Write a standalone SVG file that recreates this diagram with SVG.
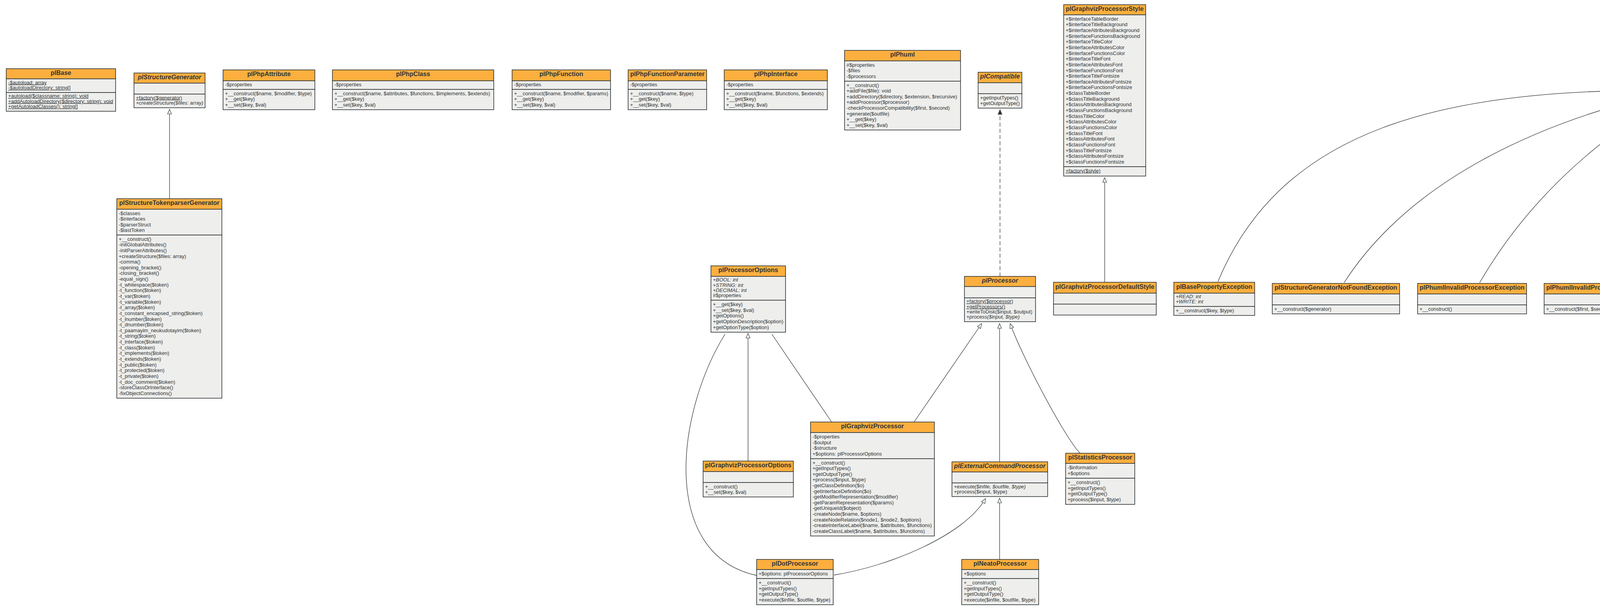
<svg xmlns="http://www.w3.org/2000/svg" width="5645" height="1560" viewBox="0 0 5645 1560">
<style>
.h{fill:#FCAF3E;stroke:#2E3436;stroke-width:1.6}
.b{fill:#EEEEEC;stroke:#2E3436;stroke-width:1.6}
text{font-family:"Liberation Sans",Arial,sans-serif;fill:#2E3436}
.t{font-size:16px;font-weight:bold;text-anchor:middle}
.ti{font-size:16px;font-weight:bold;font-style:italic;text-anchor:middle}
.r{font-size:13px}
.i{font-style:italic}
.u{text-decoration:underline}
.e{fill:none;stroke:#2E3436;stroke-width:1.3}
.d{stroke-dasharray:10,6}
.ah{marker-end:url(#tri)}
.af{marker-end:url(#trif)}
</style>
<defs>
<marker id="tri" viewBox="0 0 14 12" refX="13" refY="6" markerWidth="14" markerHeight="12" markerUnits="userSpaceOnUse" orient="auto"><path d="M1,1 L13,6 L1,11 Z" fill="#FFFFFF" stroke="#2E3436" stroke-width="1.2"/></marker>
<marker id="trif" viewBox="0 0 14 12" refX="13" refY="6" markerWidth="14" markerHeight="12" markerUnits="userSpaceOnUse" orient="auto"><path d="M1,1 L13,6 L1,11 Z" fill="#2E3436" stroke="#2E3436" stroke-width="1.2"/></marker>
</defs>
<rect x="0" y="0" width="5645" height="1560" fill="#FFFFFF"/>

<g id="plBase">
<rect class="h" x="16" y="176" width="280" height="26"/>
<rect class="b" x="16" y="202" width="280" height="35"/>
<rect class="b" x="16" y="237" width="280" height="48"/>
<text class="t" x="156" y="192">plBase</text>
<text class="r u" x="21" y="215.5"><tspan x="21">-$autoload: array</tspan><tspan x="21" dy="13.5">-$autoloadDirectory: string[]</tspan></text>
<text class="r u" x="21" y="250.3"><tspan x="21">+autoload($classname: string): void</tspan><tspan x="21" dy="13.3">+addAutoloadDirectory($directory: string): void</tspan><tspan x="21" dy="13.3">+getAutoloadClasses(): string[]</tspan></text>
</g>

<g id="plStructureGenerator">
<rect class="h" x="343" y="187" width="182" height="26"/>
<rect class="b" x="343" y="213" width="182" height="28"/>
<rect class="b" x="343" y="241" width="182" height="35"/>
<text class="ti" x="434" y="203">plStructureGenerator</text>
<text class="r u" x="348" y="254.5">+factory($generator)</text>
<text class="r i" x="348" y="268">+createStructure($files: array)</text>
</g>

<g id="plPhpAttribute">
<rect class="h" x="571" y="179" width="235" height="28"/>
<rect class="b" x="571" y="207" width="235" height="22"/>
<rect class="b" x="571" y="229" width="235" height="52"/>
<text class="t" x="688.5" y="195">plPhpAttribute</text>
<text class="r" x="576" y="221">-$properties</text>
<text class="r" x="576" y="243.7"><tspan x="576">+__construct($name, $modifier, $type)</tspan><tspan x="576" dy="14.67">+__get($key)</tspan><tspan x="576" dy="14.67">+__set($key, $val)</tspan></text>
</g>

<g id="plPhpClass">
<rect class="h" x="851" y="179" width="413" height="28"/>
<rect class="b" x="851" y="207" width="413" height="22"/>
<rect class="b" x="851" y="229" width="413" height="52"/>
<text class="t" x="1057.5" y="195">plPhpClass</text>
<text class="r" x="856" y="221">-$properties</text>
<text class="r" x="856" y="243.7"><tspan x="856">+__construct($name, $attributes, $functions, $implements, $extends)</tspan><tspan x="856" dy="14.67">+__get($key)</tspan><tspan x="856" dy="14.67">+__set($key, $val)</tspan></text>
</g>

<g id="plPhpFunction">
<rect class="h" x="1311" y="179" width="252" height="28"/>
<rect class="b" x="1311" y="207" width="252" height="22"/>
<rect class="b" x="1311" y="229" width="252" height="52"/>
<text class="t" x="1437" y="195">plPhpFunction</text>
<text class="r" x="1316" y="221">-$properties</text>
<text class="r" x="1316" y="243.7"><tspan x="1316">+__construct($name, $modifier, $params)</tspan><tspan x="1316" dy="14.67">+__get($key)</tspan><tspan x="1316" dy="14.67">+__set($key, $val)</tspan></text>
</g>

<g id="plPhpFunctionParameter">
<rect class="h" x="1608" y="179" width="201" height="28"/>
<rect class="b" x="1608" y="207" width="201" height="22"/>
<rect class="b" x="1608" y="229" width="201" height="52"/>
<text class="t" x="1708.5" y="195">plPhpFunctionParameter</text>
<text class="r" x="1613" y="221">-$properties</text>
<text class="r" x="1613" y="243.7"><tspan x="1613">+__construct($name, $type)</tspan><tspan x="1613" dy="14.67">+__get($key)</tspan><tspan x="1613" dy="14.67">+__set($key, $val)</tspan></text>
</g>

<g id="plPhpInterface">
<rect class="h" x="1854" y="179" width="264" height="28"/>
<rect class="b" x="1854" y="207" width="264" height="22"/>
<rect class="b" x="1854" y="229" width="264" height="52"/>
<text class="t" x="1986" y="195">plPhpInterface</text>
<text class="r" x="1859" y="221">-$properties</text>
<text class="r" x="1859" y="243.7"><tspan x="1859">+__construct($name, $functions, $extends)</tspan><tspan x="1859" dy="14.67">+__get($key)</tspan><tspan x="1859" dy="14.67">+__set($key, $val)</tspan></text>
</g>

<g id="plPhuml">
<rect class="h" x="2162" y="129" width="297" height="27"/>
<rect class="b" x="2162" y="156" width="297" height="52"/>
<rect class="b" x="2162" y="208" width="297" height="125"/>
<text class="t" x="2310.5" y="145">plPhuml</text>
<text class="r" x="2167" y="170.7"><tspan x="2167">#$properties</tspan><tspan x="2167" dy="14.67">-$files</tspan><tspan x="2167" dy="14.67">-$processors</tspan></text>
<text class="r" x="2167" y="222.6"><tspan x="2167">+__construct()</tspan><tspan x="2167" dy="14.63">+addFile($file): void</tspan><tspan x="2167" dy="14.63">+addDirectory($directory, $extension, $recursive)</tspan><tspan x="2167" dy="14.63">+addProcessor($processor)</tspan><tspan x="2167" dy="14.63">-checkProcessorCompatibility($first, $second)</tspan><tspan x="2167" dy="14.63">+generate($outfile)</tspan><tspan x="2167" dy="14.63">+__get($key)</tspan><tspan x="2167" dy="14.63">+__set($key, $val)</tspan></text>
</g>

<g id="plCompatible">
<rect class="h" x="2504" y="185" width="112" height="27"/>
<rect class="b" x="2504" y="212" width="112" height="28"/>
<rect class="b" x="2504" y="240" width="112" height="37"/>
<text class="ti" x="2560" y="201">plCompatible</text>
<text class="r" x="2509" y="254.5"><tspan x="2509">+getInputTypes()</tspan><tspan x="2509" dy="14.5">+getOutputType()</tspan></text>
</g>

<g id="plGraphvizProcessorStyle">
<rect class="h" x="2723" y="12" width="210" height="26"/>
<rect class="b" x="2723" y="38" width="210" height="389"/>
<rect class="b" x="2723" y="427" width="210" height="24"/>
<text class="t" x="2828" y="28">plGraphvizProcessorStyle</text>
<text class="r" x="2728" y="52.65"><tspan x="2728">+$interfaceTableBorder</tspan><tspan x="2728" dy="14.65">+$interfaceTitleBackground</tspan><tspan x="2728" dy="14.65">+$interfaceAttributesBackground</tspan><tspan x="2728" dy="14.65">+$interfaceFunctionsBackground</tspan><tspan x="2728" dy="14.65">+$interfaceTitleColor</tspan><tspan x="2728" dy="14.65">+$interfaceAttributesColor</tspan><tspan x="2728" dy="14.65">+$interfaceFunctionsColor</tspan><tspan x="2728" dy="14.65">+$interfaceTitleFont</tspan><tspan x="2728" dy="14.65">+$interfaceAttributesFont</tspan><tspan x="2728" dy="14.65">+$interfaceFunctionsFont</tspan><tspan x="2728" dy="14.65">+$interfaceTitleFontsize</tspan><tspan x="2728" dy="14.65">+$interfaceAttributesFontsize</tspan><tspan x="2728" dy="14.65">+$interfaceFunctionsFontsize</tspan><tspan x="2728" dy="14.65">+$classTableBorder</tspan><tspan x="2728" dy="14.65">+$classTitleBackground</tspan><tspan x="2728" dy="14.65">+$classAttributesBackground</tspan><tspan x="2728" dy="14.65">+$classFunctionsBackground</tspan><tspan x="2728" dy="14.65">+$classTitleColor</tspan><tspan x="2728" dy="14.65">+$classAttributesColor</tspan><tspan x="2728" dy="14.65">+$classFunctionsColor</tspan><tspan x="2728" dy="14.65">+$classTitleFont</tspan><tspan x="2728" dy="14.65">+$classAttributesFont</tspan><tspan x="2728" dy="14.65">+$classFunctionsFont</tspan><tspan x="2728" dy="14.65">+$classTitleFontsize</tspan><tspan x="2728" dy="14.65">+$classAttributesFontsize</tspan><tspan x="2728" dy="14.65">+$classFunctionsFontsize</tspan></text>
<text class="r u" x="2728" y="441.5">+factory($style)</text>
</g>

<g id="plStructureTokenparserGenerator">
<rect class="h" x="299" y="509" width="269" height="27"/>
<rect class="b" x="299" y="536" width="269" height="66"/>
<rect class="b" x="299" y="602" width="269" height="418"/>
<text class="t" x="433.5" y="525">plStructureTokenparserGenerator</text>
<text class="r" x="304" y="550.5"><tspan x="304">-$classes</tspan><tspan x="304" dy="14.5">-$interfaces</tspan><tspan x="304" dy="14.5">-$parserStruct</tspan><tspan x="304" dy="14.5">-$lastToken</tspan></text>
<text class="r" x="304" y="616.6"><tspan x="304">+__construct()</tspan><tspan x="304" dy="14.64">-initGlobalAttributes()</tspan><tspan x="304" dy="14.64">-initParserAttributes()</tspan><tspan x="304" dy="14.64">+createStructure($files: array)</tspan><tspan x="304" dy="14.64">-comma()</tspan><tspan x="304" dy="14.64">-opening_bracket()</tspan><tspan x="304" dy="14.64">-closing_bracket()</tspan><tspan x="304" dy="14.64">-equal_sign()</tspan><tspan x="304" dy="14.64">-t_whitespace($token)</tspan><tspan x="304" dy="14.64">-t_function($token)</tspan><tspan x="304" dy="14.64">-t_var($token)</tspan><tspan x="304" dy="14.64">-t_variable($token)</tspan><tspan x="304" dy="14.64">-t_array($token)</tspan><tspan x="304" dy="14.64">-t_constant_encapsed_string($token)</tspan><tspan x="304" dy="14.64">-t_lnumber($token)</tspan><tspan x="304" dy="14.64">-t_dnumber($token)</tspan><tspan x="304" dy="14.64">-t_paamayim_neukudotayim($token)</tspan><tspan x="304" dy="14.64">-t_string($token)</tspan><tspan x="304" dy="14.64">-t_interface($token)</tspan><tspan x="304" dy="14.64">-t_class($token)</tspan><tspan x="304" dy="14.64">-t_implements($token)</tspan><tspan x="304" dy="14.64">-t_extends($token)</tspan><tspan x="304" dy="14.64">-t_public($token)</tspan><tspan x="304" dy="14.64">-t_protected($token)</tspan><tspan x="304" dy="14.64">-t_private($token)</tspan><tspan x="304" dy="14.64">-t_doc_comment($token)</tspan><tspan x="304" dy="14.64">-storeClassOrInterface()</tspan><tspan x="304" dy="14.64">-fixObjectConnections()</tspan></text>
</g>

<g id="plProcessorOptions">
<rect class="h" x="1820" y="681" width="191" height="27"/>
<rect class="b" x="1820" y="708" width="191" height="61"/>
<rect class="b" x="1820" y="769" width="191" height="82"/>
<text class="t" x="1915.5" y="697">plProcessorOptions</text>
<text class="r" x="1825" y="721.25"><tspan x="1825" class="i">+BOOL: int</tspan><tspan x="1825" dy="13.25" class="i">+STRING: int</tspan><tspan x="1825" dy="13.25" class="i">+DECIMAL: int</tspan><tspan x="1825" dy="13.25">#$properties</tspan></text>
<text class="r" x="1825" y="783.8"><tspan x="1825">+__get($key)</tspan><tspan x="1825" dy="14.8">+__set($key, $val)</tspan><tspan x="1825" dy="14.8">+getOptions()</tspan><tspan x="1825" dy="14.8">+getOptionDescription($option)</tspan><tspan x="1825" dy="14.8">+getOptionType($option)</tspan></text>
</g>

<g id="plProcessor">
<rect class="h" x="2469" y="708" width="182" height="26"/>
<rect class="b" x="2469" y="734" width="182" height="29"/>
<rect class="b" x="2469" y="763" width="182" height="61"/>
<text class="ti" x="2560" y="724">plProcessor</text>
<text class="r u" x="2474" y="776.25">+factory($processor)</text>
<text class="r u" x="2474" y="789.5">+getProcessors()</text>
<text class="r" x="2474" y="802.75">+writeToDisk($input, $output)</text>
<text class="r i" x="2474" y="816">+process($input, $type)</text>
</g>

<g id="plGraphvizProcessorOptions">
<rect class="h" x="1800" y="1181" width="231" height="27"/>
<rect class="b" x="1800" y="1208" width="231" height="28"/>
<rect class="b" x="1800" y="1236" width="231" height="37"/>
<text class="t" x="1915.5" y="1197">plGraphvizProcessorOptions</text>
<text class="r" x="1805" y="1250.5"><tspan x="1805">+__construct()</tspan><tspan x="1805" dy="14.5">+__set($key, $val)</tspan></text>
</g>

<g id="plGraphvizProcessor">
<rect class="h" x="2075" y="1081" width="317" height="27"/>
<rect class="b" x="2075" y="1108" width="317" height="67"/>
<rect class="b" x="2075" y="1175" width="317" height="198"/>
<text class="t" x="2233.5" y="1097">plGraphvizProcessor</text>
<text class="r" x="2080" y="1122.75"><tspan x="2080">-$properties</tspan><tspan x="2080" dy="14.75">-$output</tspan><tspan x="2080" dy="14.75">-$structure</tspan><tspan x="2080" dy="14.75">+$options: plProcessorOptions</tspan></text>
<text class="r" x="2080" y="1189.6"><tspan x="2080">+__construct()</tspan><tspan x="2080" dy="14.6">+getInputTypes()</tspan><tspan x="2080" dy="14.6">+getOutputType()</tspan><tspan x="2080" dy="14.6">+process($input, $type)</tspan><tspan x="2080" dy="14.6">-getClassDefinition($o)</tspan><tspan x="2080" dy="14.6">-getInterfaceDefinition($o)</tspan><tspan x="2080" dy="14.6">-getModifierRepresentation($modifier)</tspan><tspan x="2080" dy="14.6">-getParamRepresentation($params)</tspan><tspan x="2080" dy="14.6">-getUniqueId($object)</tspan><tspan x="2080" dy="14.6">-createNode($name, $options)</tspan><tspan x="2080" dy="14.6">-createNodeRelation($node1, $node2, $options)</tspan><tspan x="2080" dy="14.6">-createInterfaceLabel($name, $attributes, $functions)</tspan><tspan x="2080" dy="14.6">-createClassLabel($name, $attributes, $functions)</tspan></text>
</g>

<g id="plDotProcessor">
<rect class="h" x="1937" y="1433" width="196" height="26"/>
<rect class="b" x="1937" y="1459" width="196" height="23"/>
<rect class="b" x="1937" y="1482" width="196" height="67"/>
<text class="t" x="2035" y="1449">plDotProcessor</text>
<text class="r" x="1942" y="1474">+$options: plProcessorOptions</text>
<text class="r" x="1942" y="1496.75"><tspan x="1942">+__construct()</tspan><tspan x="1942" dy="14.75">+getInputTypes()</tspan><tspan x="1942" dy="14.75">+getOutputType()</tspan><tspan x="1942" dy="14.75">+execute($infile, $outfile, $type)</tspan></text>
</g>

<g id="plNeatoProcessor">
<rect class="h" x="2462" y="1433" width="197" height="26"/>
<rect class="b" x="2462" y="1459" width="197" height="23"/>
<rect class="b" x="2462" y="1482" width="197" height="67"/>
<text class="t" x="2560.5" y="1449">plNeatoProcessor</text>
<text class="r" x="2467" y="1474">+$options</text>
<text class="r" x="2467" y="1496.75"><tspan x="2467">+__construct()</tspan><tspan x="2467" dy="14.75">+getInputTypes()</tspan><tspan x="2467" dy="14.75">+getOutputType()</tspan><tspan x="2467" dy="14.75">+execute($infile, $outfile, $type)</tspan></text>
</g>

<g id="plExternalCommandProcessor">
<rect class="h" x="2437" y="1183" width="245" height="26"/>
<rect class="b" x="2437" y="1209" width="245" height="28"/>
<rect class="b" x="2437" y="1237" width="245" height="35"/>
<text class="ti" x="2559.5" y="1199">plExternalCommandProcessor</text>
<text class="r i" x="2442" y="1250.5">+execute($infile, $outfile, $type)</text>
<text class="r" x="2442" y="1264">+process($input, $type)</text>
</g>

<g id="plStatisticsProcessor">
<rect class="h" x="2728" y="1161" width="177" height="26"/>
<rect class="b" x="2728" y="1187" width="177" height="38"/>
<rect class="b" x="2728" y="1225" width="177" height="67"/>
<text class="t" x="2816.5" y="1177">plStatisticsProcessor</text>
<text class="r" x="2733" y="1202"><tspan x="2733">-$information</tspan><tspan x="2733" dy="15">+$options</tspan></text>
<text class="r" x="2733" y="1239.75"><tspan x="2733">+__construct()</tspan><tspan x="2733" dy="14.75">+getInputTypes()</tspan><tspan x="2733" dy="14.75">+getOutputType()</tspan><tspan x="2733" dy="14.75">+process($input, $type)</tspan></text>
</g>

<g id="plGraphvizProcessorDefaultStyle">
<rect class="h" x="2697" y="723" width="263" height="28"/>
<rect class="b" x="2697" y="751" width="263" height="28"/>
<rect class="b" x="2697" y="779" width="263" height="28"/>
<text class="t" x="2828.5" y="740">plGraphvizProcessorDefaultStyle</text>
</g>

<g id="Exception">
<rect class="h" x="4255" y="189" width="88" height="26.5"/>
<rect class="b" x="4255" y="215.5" width="88" height="28"/>
<rect class="b" x="4255" y="243.5" width="88" height="28.5"/>
<text class="t" x="4299" y="205">Exception</text>
</g>

<g id="plBasePropertyException">
<rect class="h" x="3005" y="723" width="207" height="28"/>
<rect class="b" x="3005" y="751" width="207" height="34"/>
<rect class="b" x="3005" y="785" width="207" height="23"/>
<text class="t" x="3108.5" y="740">plBasePropertyException</text>
<text class="r i" x="3010" y="764"><tspan x="3010">+READ: int</tspan><tspan x="3010" dy="13">+WRITE: int</tspan></text>
<text class="r" x="3010" y="800">+__construct($key, $type)</text>
</g>

<g id="plStructureGeneratorNotFoundException">
<rect class="h" x="3257" y="726" width="326" height="27"/>
<rect class="b" x="3257" y="753" width="326" height="28"/>
<rect class="b" x="3257" y="781" width="326" height="23"/>
<text class="t" x="3420" y="742">plStructureGeneratorNotFoundException</text>
<text class="r" x="3262" y="796">+__construct($generator)</text>
</g>

<g id="plPhumlInvalidProcessorException">
<rect class="h" x="3629" y="726" width="279" height="27"/>
<rect class="b" x="3629" y="753" width="279" height="28"/>
<rect class="b" x="3629" y="781" width="279" height="23"/>
<text class="t" x="3768.5" y="742">plPhumlInvalidProcessorException</text>
<text class="r" x="3634" y="796">+__construct()</text>
</g>

<g id="plPhumlInvalidProcessorChainException">
<rect class="h" x="3953" y="726" width="324" height="27"/>
<rect class="b" x="3953" y="753" width="324" height="28"/>
<rect class="b" x="3953" y="781" width="324" height="23"/>
<text class="t" x="4115" y="742">plPhumlInvalidProcessorChainException</text>
<text class="r" x="3958" y="796">+__construct($first, $second)</text>
</g>

<g id="plProcessorExternalExecutionException">
<rect class="h" x="4322" y="726" width="320" height="27"/>
<rect class="b" x="4322" y="753" width="320" height="28"/>
<rect class="b" x="4322" y="781" width="320" height="23"/>
<text class="t" x="4482" y="742">plProcessorExternalExecutionException</text>
<text class="r" x="4327" y="796">+__construct($output)</text>
</g>

<g id="plGraphvizProcessorStyleNotFoundException">
<rect class="h" x="4688" y="726" width="362" height="27"/>
<rect class="b" x="4688" y="753" width="362" height="28"/>
<rect class="b" x="4688" y="781" width="362" height="23"/>
<text class="t" x="4869" y="742">plGraphvizProcessorStyleNotFoundException</text>
<text class="r" x="4693" y="796">+__construct($style)</text>
</g>

<g id="plProcessorNotFoundException">
<rect class="h" x="5097" y="726" width="257" height="27"/>
<rect class="b" x="5097" y="753" width="257" height="28"/>
<rect class="b" x="5097" y="781" width="257" height="23"/>
<text class="t" x="5225.5" y="742">plProcessorNotFoundException</text>
<text class="r" x="5102" y="796">+__construct($processor)</text>
</g>

<g id="plProcessorOptionException">
<rect class="h" x="5400" y="716" width="229" height="27"/>
<rect class="b" x="5400" y="743" width="229" height="48"/>
<rect class="b" x="5400" y="791" width="229" height="23"/>
<text class="t" x="5514.5" y="732">plProcessorOptionException</text>
<text class="r i" x="5405" y="756.3"><tspan x="5405">+READ: int</tspan><tspan x="5405" dy="13.3">+WRITE: int</tspan><tspan x="5405" dy="13.3">+UNKNOWN: int</tspan></text>
<text class="r" x="5405" y="806">+__construct($key, $type)</text>
</g>

<g id="connectors">
<path class="e ah" d="M434,509 L434,280"/>
<path class="e d af" d="M2560,708 L2560,281"/>
<path class="e ah" d="M2828,723 L2828,455"/>
<path class="e ah" d="M1915,1181 L1915,854"/>
<path class="e" d="M1976,856 L2129,1081"/>
<path class="e" d="M1856,856 C1730,1060 1690,1420 1937,1474"/>
<path class="e ah" d="M2340,1081 L2513,829"/>
<path class="e ah" d="M2559,1183 L2559,829"/>
<path class="e ah" d="M2765,1161 C2725,1120 2615,910 2586,829"/>
<path class="e ah" d="M2559,1433 L2559,1276"/>
<path class="e ah" d="M2135,1473 C2280,1450 2470,1370 2523,1277"/>
<path class="e ah" d="M3118,721 C3283,324 3700,232 4245,231"/>
<path class="e ah" d="M3441,724 C3609,463 3932,317 4245,242"/>
<path class="e ah" d="M3788,724 C3902,528 4057,384 4245,263"/>
<path class="e ah" d="M4130,724 L4282,277"/>
<path class="e ah" d="M4468,724 L4316,277"/>
<path class="e ah" d="M4841,724 C4780,560 4500,380 4353,266"/>
<path class="e ah" d="M5210,724 C5160,470 4650,300 4353,239"/>
<path class="e ah" d="M5500,714 C5450,450 4900,250 4353,231"/>
</g>
</svg>
